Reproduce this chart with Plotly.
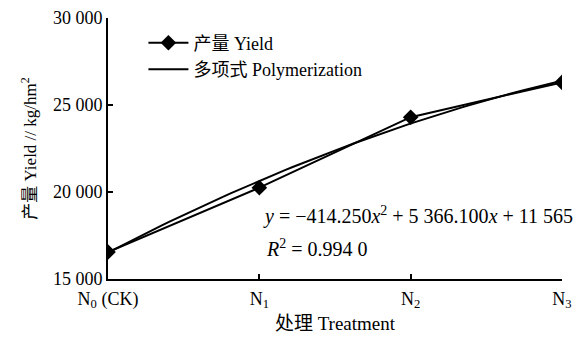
import numpy as np
import plotly.graph_objects as go

categories = ["N<sub>0</sub> (CK)", "N<sub>1</sub>", "N<sub>2</sub>", "N<sub>3</sub>"]
yield_values = [16550, 20250, 24300, 26300]
poly_coef = [-414.250, 5366.100, 11565]  # from the equation shown on the chart
y_ticks = [15000, 20000, 25000, 30000]
y_tick_labels = ["15 000", "20 000", "25 000", "30 000"]

x_idx = list(range(len(categories)))
xs = np.linspace(0, len(categories) - 1, 60)
poly_y = np.polyval(poly_coef, xs + 1)

FONT = "Liberation Serif, Noto Sans CJK SC, serif"

fig = go.Figure()
fig.add_trace(go.Scatter(
    x=x_idx, y=yield_values, mode="lines+markers", name="产量 Yield",
    line=dict(color="black", width=2),
    marker=dict(symbol="diamond", size=12, color="black"),
))
fig.add_trace(go.Scatter(
    x=xs, y=poly_y, mode="lines", name="多项式 Polymerization",
    line=dict(color="black", width=2),
))

fig.add_annotation(
    x=1, xref="paper", xanchor="right", y=18640, yref="y",
    text="<i>y</i> = −414.250<i>x</i><sup>2</sup> + 5 366.100<i>x</i> + 11 565",
    showarrow=False, font=dict(family=FONT, size=20, color="black"),
    xshift=13,
)
fig.add_annotation(
    x=1.03, xref="x", xanchor="left", y=16760, yref="y",
    text="<i>R</i><sup>2</sup> = 0.994 0",
    showarrow=False, font=dict(family=FONT, size=20, color="black"),
)

fig.update_layout(
    width=580, height=337,
    margin=dict(l=100, r=26, t=10, b=66, autoexpand=False),
    paper_bgcolor="white", plot_bgcolor="white",
    font=dict(family=FONT, size=19, color="black"),
    showlegend=True,
    legend=dict(x=0.078, y=0.975, xanchor="left", yanchor="top",
                bgcolor="rgba(0,0,0,0)", font=dict(size=18),
                itemwidth=40, tracegroupgap=0),
    xaxis=dict(
        range=[0, 3], tickvals=x_idx, ticktext=categories,
        showline=True, linecolor="black", linewidth=2,
        ticks="inside", ticklen=5, tickcolor="black", tickwidth=2,
        showgrid=False, zeroline=False, automargin=False,
        ticklabeloverflow="allow", ticklabelstandoff=2,
        tickfont=dict(size=18),
        title=dict(text="处理 Treatment", standoff=6, font=dict(size=19)),
    ),
    yaxis=dict(
        range=[15000, 30000], tickvals=y_ticks, ticktext=y_tick_labels,
        showline=True, linecolor="black", linewidth=2,
        ticks="inside", ticklen=5, tickcolor="black", tickwidth=2,
        showgrid=False, zeroline=False, automargin=False,
        ticklabeloverflow="allow", tickfont=dict(size=18),
        title=dict(text="产量 Yield // kg/hm<sup>2</sup>", standoff=12, font=dict(size=17)),
    ),
)

fig.write_html("out.html")
